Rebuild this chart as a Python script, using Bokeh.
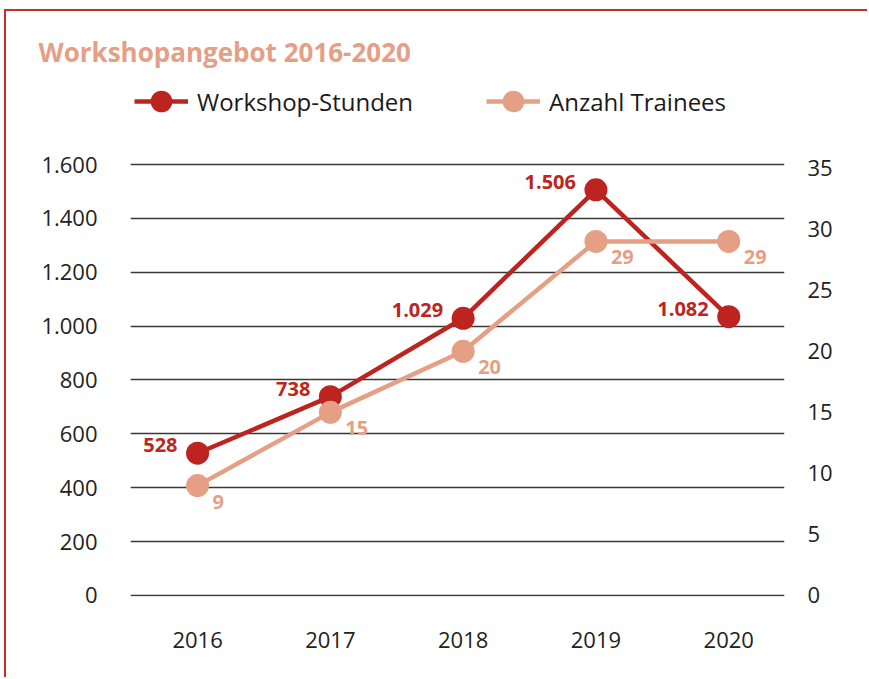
from bokeh.plotting import figure
from bokeh.models import (Range1d, LinearAxis, FixedTicker, Legend, LegendItem,
                          ColumnDataSource)
from bokeh.core.properties import value
from bokeh.embed import file_html
from bokeh.resources import INLINE

# ---- data ----
years = ["2016", "2017", "2018", "2019", "2020"]
workshop_hours = [528, 738, 1029, 1506, 1035]          # plotted positions
workshop_printed = [528, 738, 1029, 1506, 1082]        # printed data labels
trainees = [9, 15, 20, 29, 29]
left_ticks = [0, 200, 400, 600, 800, 1000, 1200, 1400, 1600]
right_ticks = [0, 5, 10, 15, 20, 25, 30, 35]

RED = "#bd2420"
SALMON = "#e49f85"
BORDER = "#c62f2b"
FONT = "Open Sans"

def de(v):
    return f"{v:,}".replace(",", ".")

xs = list(range(len(years)))
src = ColumnDataSource(dict(
    x=xs, ws=workshop_hours, tr=trainees,
    ws_lab=[de(v) for v in workshop_printed],
    tr_lab=[str(v) for v in trainees],
))

p = figure(width=863, height=668, output_backend="svg", toolbar_location=None,
           x_range=Range1d(-0.505, 4.42), y_range=Range1d(-4, 1912),
           min_border_left=124, min_border_right=85, min_border_bottom=83,
           min_border_top=69)
p.styles = {"margin-left": "4px", "margin-top": "9px",
            "border-left": f"2px solid {BORDER}", "border-top": f"2px solid {BORDER}"}
p.extra_y_ranges = {"tr": Range1d(-0.082, 42.18)}
p.outline_line_color = None
p.background_fill_color = "white"
p.border_fill_color = "white"

# title
p.title.text = "Workshopangebot 2016-2020"
p.title.text_font = FONT
p.title.text_font_style = "bold"
p.title.text_font_size = "26px"
p.title.text_color = SALMON
p.title.align = "left"
p.title.offset = -92
p.title.standoff = 22

# axes
def style_axis(ax):
    ax.axis_line_color = None
    ax.major_tick_line_color = None
    ax.minor_tick_line_color = None
    ax.major_label_text_font = FONT
    ax.major_label_text_font_size = "22px"
    ax.major_label_text_color = "#222222"

p.yaxis.ticker = FixedTicker(ticks=left_ticks)
p.yaxis.major_label_overrides = {t: de(t) for t in left_ticks}
style_axis(p.yaxis[0])
p.yaxis.major_label_standoff = 27

rax = LinearAxis(y_range_name="tr", ticker=FixedTicker(ticks=right_ticks))
style_axis(rax)
rax.major_label_standoff = 17
p.add_layout(rax, "right")

p.xaxis.ticker = FixedTicker(ticks=xs)
p.xaxis.major_label_overrides = {i: y for i, y in enumerate(years)}
style_axis(p.xaxis[0])
p.xaxis.major_label_standoff = 29

p.xgrid.visible = False
p.ygrid.ticker = FixedTicker(ticks=left_ticks)
p.ygrid.grid_line_color = "#383838"
p.ygrid.grid_line_width = 1.4

# series
ws_line = p.line("x", "ws", source=src, line_color=RED, line_width=4.5)
ws_pts = p.scatter("x", "ws", source=src, size=23, fill_color=RED, line_color=None)
tr_line = p.line("x", "tr", source=src, y_range_name="tr", line_color=SALMON, line_width=4.5)
tr_pts = p.scatter("x", "tr", source=src, y_range_name="tr", size=23,
                   fill_color=SALMON, line_color=None)

p.text("x", "ws", text="ws_lab", source=src, text_align="right", text_baseline="middle",
       x_offset=-20, y_offset=-8, text_font=value(FONT), text_font_style="bold",
       text_font_size="20px", text_color=RED)
p.text("x", "tr", text="tr_lab", source=src, y_range_name="tr", text_align="left",
       text_baseline="middle", x_offset=15, y_offset=16, text_font=value(FONT),
       text_font_style="bold", text_font_size="20px", text_color=SALMON)

# legends
def make_legend(label, rends, loc):
    return Legend(items=[LegendItem(label=label, renderers=rends)], location=loc,
                  orientation="horizontal", padding=0, margin=0,
                  glyph_width=54, glyph_height=58, label_height=58,
                  label_standoff=9, border_line_color=None,
                  background_fill_alpha=0,
                  label_text_font=FONT, label_text_font_size="24px",
                  label_text_color="#1a1a1a", label_text_baseline="middle")

p.add_layout(make_legend("Workshop-Stunden", [ws_line, ws_pts], (4, 466)))
p.add_layout(make_legend("Anzahl Trainees", [tr_line, tr_pts], (356, 466)))

open("out.html", "w").write(file_html(p, INLINE))
